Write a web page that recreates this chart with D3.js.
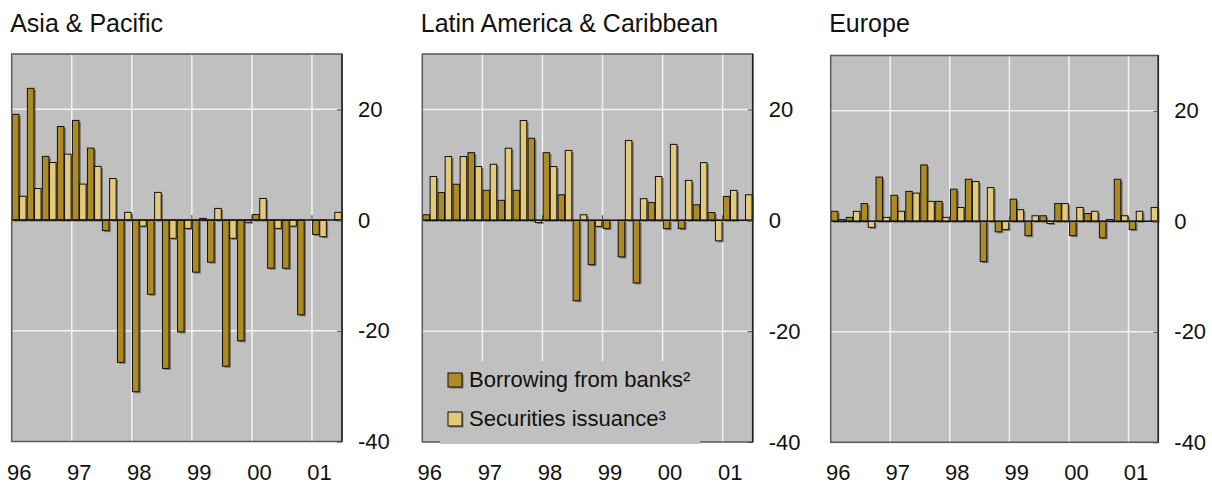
<!DOCTYPE html>
<html>
<head>
<meta charset="utf-8">
<script src="https://cdn.jsdelivr.net/npm/d3@7"></script>
<style>
  html, body { margin: 0; padding: 0; background: #fff; }
  svg { display: block; font-family: "Liberation Sans", Arial, sans-serif; }
</style>
</head>
<body>
<div id="chart"></div>
<script>
// quarterly data, 1996 Q1 to 2001 Q2, billions of US dollars
const quarters = ["96Q1","96Q2","96Q3","96Q4","97Q1","97Q2","97Q3","97Q4","98Q1","98Q2","98Q3","98Q4",
                  "99Q1","99Q2","99Q3","99Q4","00Q1","00Q2","00Q3","00Q4","01Q1","01Q2"];
const yearLabels = ["96","97","98","99","00","01"];
const yTicks = [20, 0, -20, -40];
const seriesNames = ["Borrowing from banks²", "Securities issuance³"];
const panelTitles = ["Asia & Pacific", "Latin America & Caribbean", "Europe"];

const asiaBanks = [19.1, 23.8, 11.5, 16.9, 18.0, 13.0, -1.9, -25.7, -31.0, -13.4, -26.8, -20.2, -9.4, -7.6, -26.4, -21.8, 1.0, -8.7, -8.7, -17.1, -2.6, 0];
const asiaSecurities = [4.3, 5.7, 10.4, 11.9, 6.5, 9.7, 7.5, 1.4, -1.1, 5.0, -3.3, -1.5, 0.3, 2.1, -3.3, -0.4, 3.9, -1.5, -1.1, 0, -3.0, 1.4];
const latamBanks = [1.0, 5.0, 6.5, 12.2, 5.4, 3.6, 5.4, 14.8, 12.2, 4.6, -14.5, -8.0, -1.5, -6.6, -11.3, 3.2, -1.5, -1.5, 2.8, 1.4, 4.3, 0];
const latamSecurities = [7.9, 11.5, 11.5, 9.7, 10.1, 13.0, 18.0, -0.4, 9.7, 12.6, 1.0, -1.1, 0, 14.4, 3.9, 7.9, 13.7, 7.2, 10.4, -3.7, 5.4, 4.6];
const europeBanks = [1.8, 0.7, 3.2, 8.0, 4.7, 5.4, 10.2, 3.6, 5.8, 7.6, -7.3, -1.9, 4.0, -2.6, 1.0, 3.2, -2.6, 1.4, -3.0, 7.6, -1.5, 0];
const europeSecurities = [0.3, 1.8, -1.1, 0.7, 1.8, 5.1, 3.6, 0.7, 2.5, 7.2, 6.1, -1.5, 2.1, 1.0, -0.4, 3.2, 2.5, 1.8, 0.3, 1.0, 1.8, 2.5];

const panelData = [
    [asiaBanks, asiaSecurities],
    [latamBanks, latamSecurities],
    [europeBanks, europeSecurities]
];

const W = 1212, H = 484;
const colors = ["#ae8a22", "#e3c97c"];
const bg = "#c0c0c0";
const panels = [
    { left: 11.7, width: 330.3, top: 54, bottom: 441.5 },
    { left: 422.3, width: 330.4, top: 54, bottom: 442 },
    { left: 830.7, width: 327.6, top: 55.5, bottom: 442.3 }
];

const svg = d3.select("#chart").append("svg")
    .attr("width", W)
    .attr("height", H);

panels.forEach((p, pi) => {
    const g = svg.append("g").attr("transform", `translate(${p.left},0)`);
    const h = p.bottom - p.top;

    const x = d3.scaleBand().domain(quarters).range([0, p.width]).padding(0);
    const xs = d3.scaleBand().domain([0, 1]).range([0, x.bandwidth()]).paddingInner(0).paddingOuter(0.05);
    const y = d3.scaleLinear().domain([-40, 30]).range([p.bottom, p.top]);

    // title
    svg.append("text")
        .attr("x", p.left - 1.5)
        .attr("y", 32)
        .attr("font-size", 25)
        .attr("fill", "#111")
        .text(panelTitles[pi]);

    // background
    g.append("rect")
        .attr("x", 0).attr("y", p.top)
        .attr("width", p.width).attr("height", h)
        .attr("fill", bg);

    // vertical gridlines at year starts
    const yearStarts = yearLabels.slice(1).map(yl => x(yl + "Q1"));
    g.selectAll(".vgrid").data(yearStarts).join("line")
        .attr("x1", d => d).attr("x2", d => d)
        .attr("y1", p.top).attr("y2", p.bottom)
        .attr("stroke", "#f2f2f2").attr("stroke-width", 1.5);

    // horizontal gridlines
    g.selectAll(".hgrid").data([20, -20]).join("line")
        .attr("x1", 0).attr("x2", p.width)
        .attr("y1", d => y(d)).attr("y2", d => y(d))
        .attr("stroke", "#f2f2f2").attr("stroke-width", 1.5);

    // legend box in middle panel covers the grid
    if (pi === 1) {
        g.append("rect")
            .attr("x", 440 - p.left).attr("y", 361)
            .attr("width", 260).attr("height", p.bottom - 361 + 2)
            .attr("fill", bg);
    }

    // bars
    panelData[pi].forEach((vals, si) => {
        const bars = quarters.map((q, i) => ({ q, v: vals[i] })).filter(d => d.v !== 0);
        const bw = xs.bandwidth() - 0.6;
        const bx = d => x(d.q) + xs(si) + 0.3;
        const by = d => Math.min(y(d.v), y(0));
        const bh = d => Math.abs(y(d.v) - y(0));

        g.selectAll(null).data(bars).join("rect")
            .attr("x", d => bx(d) + 1.8)
            .attr("y", d => by(d) + 1.5)
            .attr("width", bw)
            .attr("height", bh)
            .attr("fill", "#4a4a4a")
            .attr("fill-opacity", 0.65);

        g.selectAll(null).data(bars).join("rect")
            .attr("x", bx)
            .attr("y", by)
            .attr("width", bw)
            .attr("height", bh)
            .attr("fill", colors[si])
            .attr("stroke", "#111")
            .attr("stroke-width", 1);
    });

    // zero line
    g.append("line")
        .attr("x1", 0).attr("x2", p.width)
        .attr("y1", y(0)).attr("y2", y(0))
        .attr("stroke", "#111").attr("stroke-width", 1.5);

    // small year ticks on the zero line
    g.selectAll(".ztick").data([0].concat(yearStarts)).join("line")
        .attr("x1", d => d).attr("x2", d => d)
        .attr("y1", y(0)).attr("y2", y(0) - 5)
        .attr("stroke", "#444").attr("stroke-width", 1);

    // frame
    g.append("rect")
        .attr("x", 0).attr("y", p.top)
        .attr("width", p.width).attr("height", h)
        .attr("fill", "none")
        .attr("stroke", "#5a5a5a").attr("stroke-width", 1.5);
    g.append("line")
        .attr("x1", p.width).attr("x2", p.width)
        .attr("y1", p.top).attr("y2", p.bottom)
        .attr("stroke", "#222").attr("stroke-width", 1.5);

    if (pi === 1) {
        // legend covers the bottom frame
        g.append("rect")
            .attr("x", 440 - p.left).attr("y", p.bottom - 2)
            .attr("width", 260).attr("height", 4)
            .attr("fill", bg);
    }

    // right axis
    const yAxis = d3.axisRight(y)
        .tickValues(yTicks)
        .tickSize(-5)
        .tickPadding(16)
        .tickFormat(d => String(d));
    const ax = g.append("g")
        .attr("transform", `translate(${p.width},0)`)
        .call(yAxis);
    ax.select(".domain").remove();
    ax.selectAll(".tick line").attr("stroke", "#444");
    ax.selectAll(".tick text")
        .attr("font-size", 22)
        .attr("font-family", "Liberation Sans, Arial, sans-serif")
        .attr("fill", "#111");

    // year labels centred on the first quarter
    g.selectAll(".ylab").data(yearLabels).join("text")
        .attr("x", d => x(d + "Q1") + x.bandwidth() / 2)
        .attr("y", 480)
        .attr("text-anchor", "middle")
        .attr("font-size", 22)
        .attr("fill", "#111")
        .text(d => d);
});

// legend
const legend = svg.append("g");
const legendRows = [380, 419];
seriesNames.forEach((name, i) => {
    legend.append("rect")
        .attr("x", 449.5).attr("y", legendRows[i] - 5.5)
        .attr("width", 14).attr("height", 14)
        .attr("fill", "#4a4a4a").attr("fill-opacity", 0.65);
    legend.append("rect")
        .attr("x", 448).attr("y", legendRows[i] - 7)
        .attr("width", 14).attr("height", 14)
        .attr("fill", colors[i])
        .attr("stroke", "#111").attr("stroke-width", 1);
    legend.append("text")
        .attr("x", 469).attr("y", legendRows[i] + 7)
        .attr("font-size", 22)
        .attr("fill", "#111")
        .text(name);
});
</script>
</body>
</html>
